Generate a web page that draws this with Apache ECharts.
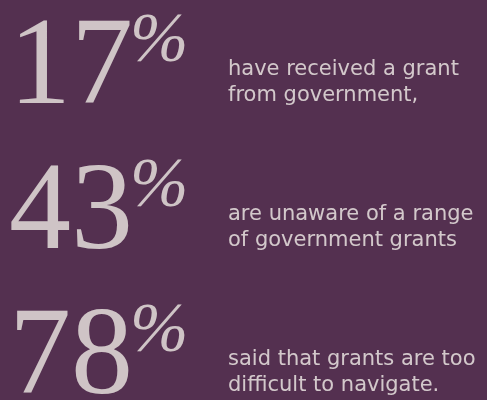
<!DOCTYPE html>
<html>
<head>
<meta charset="utf-8">
<script src="https://cdn.jsdelivr.net/npm/echarts@6/dist/echarts.min.js"></script>
<style>
html,body{margin:0;padding:0;background:#543050;}
#chart{width:487px;height:400px;}
</style>
</head>
<body>
<div id="chart"></div>
<script>
const rows = ['row1', 'row2', 'row3'];
const columns = ['stat', 'text'];
const percentages = [17, 43, 78];
const percentSign = '%';
const descriptions = [
  'have received a grant\nfrom government,',
  'are unaware of a range\nof government grants',
  'said that grants are too\ndifficult to navigate.'
];

const chart = echarts.init(document.getElementById('chart'));
const ink = '#eeeae3';

chart.setOption({
  backgroundColor: '#543050',
  animation: false,
  grid: { left: 9, right: 259, top: 70, bottom: 40 },
  xAxis: { type: 'category', data: columns, boundaryGap: false, show: false },
  yAxis: { type: 'category', data: rows, boundaryGap: false, inverse: true, show: false },
  series: [
    {
      name: 'value',
      type: 'scatter',
      symbolSize: 0,
      silent: true,
      data: percentages.map((v, i) => [columns[0], rows[i], v]),
      label: {
        show: true,
        position: 'right',
        distance: 0,
        formatter: p => String(p.value[2]),
        fontFamily: 'Liberation Serif',
        fontSize: 124,
        lineHeight: 110,
        color: ink
      }
    },
    {
      name: 'percent sign',
      type: 'scatter',
      symbolSize: 0,
      silent: true,
      data: percentages.map((v, i) => [columns[0], rows[i], percentSign]),
      label: {
        show: true,
        position: 'right',
        distance: 0,
        offset: [121, -27],
        formatter: p => p.value[2],
        fontFamily: 'Liberation Serif',
        fontStyle: 'italic',
        fontSize: 70,
        lineHeight: 60,
        color: ink
      }
    },
    {
      name: 'description',
      type: 'scatter',
      symbolSize: 0,
      silent: true,
      data: descriptions.map((d, i) => [columns[1], rows[i], d]),
      label: {
        show: true,
        position: 'right',
        distance: 0,
        offset: [0, 13],
        formatter: p => p.value[2],
        fontFamily: 'DejaVu Sans',
        fontSize: 21,
        lineHeight: 26,
        color: '#f3efea',
        align: 'left'
      }
    }
  ]
});
</script>
</body>
</html>
